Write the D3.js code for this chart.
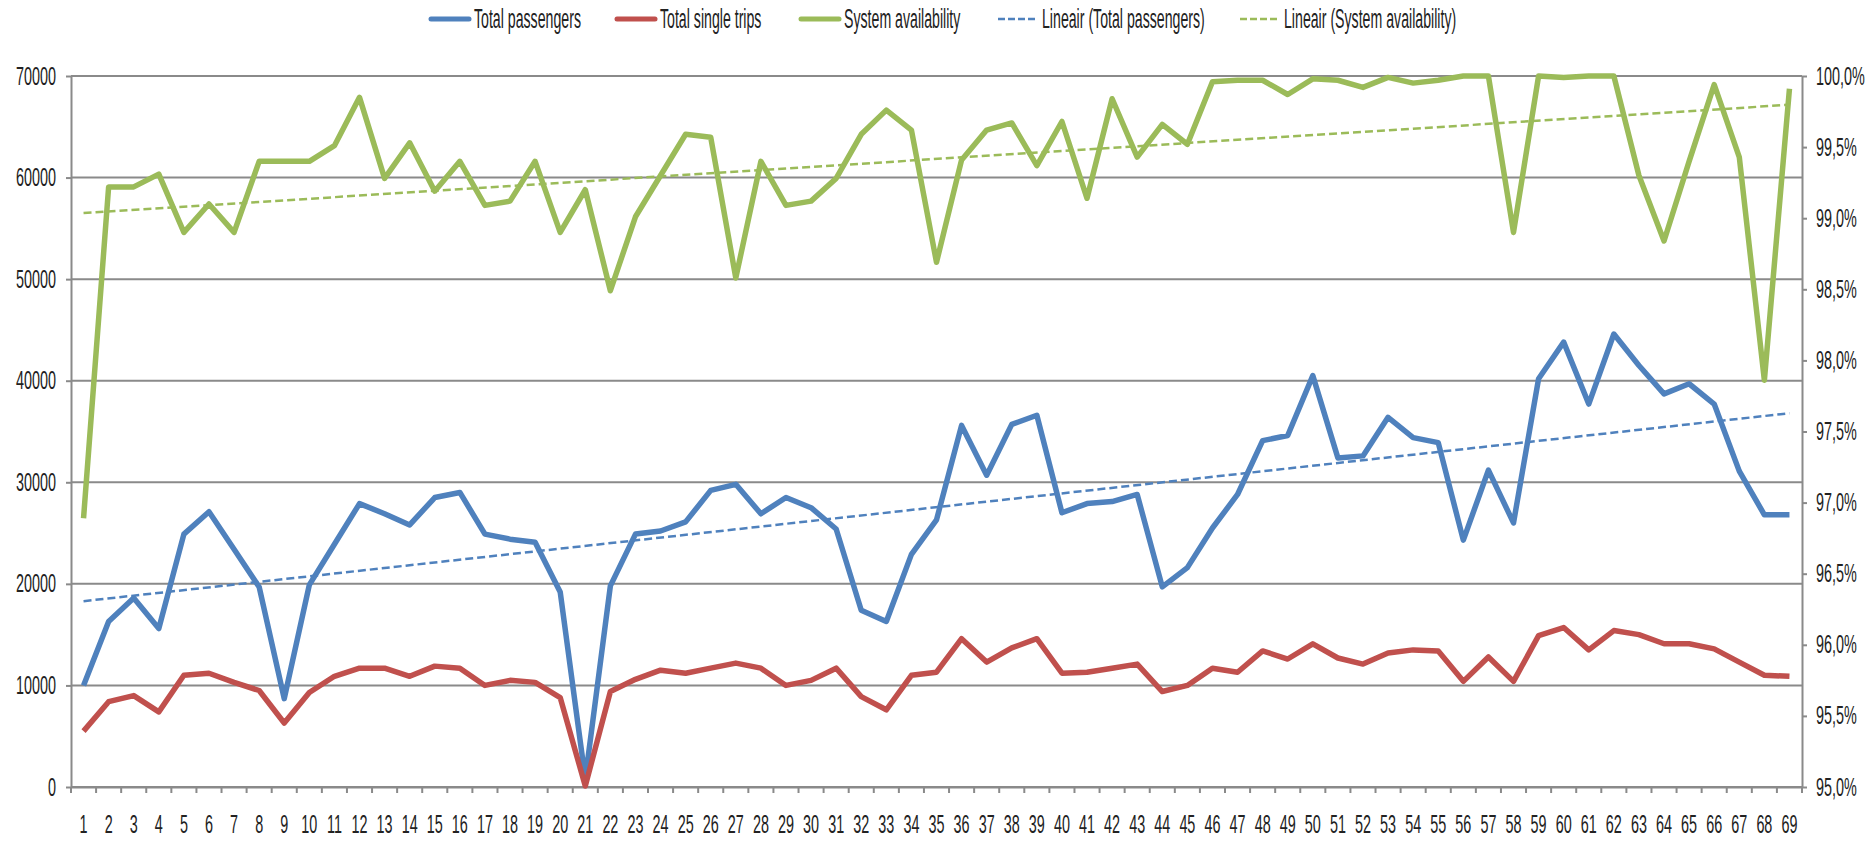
<!DOCTYPE html>
<html>
<head>
<meta charset="utf-8">
<script src="https://cdnjs.cloudflare.com/ajax/libs/d3/7.8.5/d3.min.js"></script>
<style>
  body { margin: 0; background: #fff; }
  text { font-family: "Liberation Sans Narrow", "Arial Narrow", "Liberation Sans", sans-serif; fill: #222; }
</style>
</head>
<body>
<script>
// data
var categories = ["1","2","3","4","5","6","7","8","9","10","11","12","13","14","15","16","17","18","19","20",
    "21","22","23","24","25","26","27","28","29","30","31","32","33","34","35","36","37","38","39","40",
    "41","42","43","44","45","46","47","48","49","50","51","52","53","54","55","56","57","58","59","60",
    "61","62","63","64","65","66","67","68","69"];

var totalPassengers = [10000,16300,18600,15600,24900,27100,23400,19700,8700,19900,
    23900,27900,26900,25800,28500,29000,24900,24400,24100,19200,
    800,19800,24900,25200,26100,29200,29800,26900,28500,27500,
    25400,17400,16300,22900,26300,35600,30700,35700,36600,27000,
    27900,28100,28800,19700,21600,25500,28800,34100,34600,40500,
    32400,32600,36400,34400,33900,24300,31200,26000,40200,43800,
    37700,44600,41500,38700,39700,37700,31100,26800,26800];

var totalSingleTrips = [5500,8400,9000,7400,11000,11200,10300,9500,6300,9300,
    10900,11700,11700,10900,11900,11700,10000,10500,10300,8800,
    100,9400,10600,11500,11200,11700,12200,11700,10000,10500,
    11700,8900,7600,11000,11300,14600,12300,13700,14600,11200,
    11300,11700,12100,9400,10000,11700,11300,13400,12600,14100,
    12700,12100,13200,13500,13400,10400,12800,10400,14900,15700,
    13500,15400,15000,14100,14100,13600,12300,11000,10900];

var systemAvailability = [96.89,99.22,99.22,99.31,98.90,99.10,98.90,99.40,99.40,99.40,
    99.51,99.85,99.28,99.53,99.19,99.40,99.09,99.12,99.40,98.90,
    99.20,98.49,99.01,99.30,99.59,99.57,98.58,99.40,99.09,99.12,
    99.28,99.59,99.76,99.62,98.69,99.41,99.62,99.67,99.37,99.68,
    99.14,99.84,99.43,99.66,99.52,99.96,99.97,99.97,99.87,99.98,
    99.97,99.92,99.99,99.95,99.97,100.0,100.0,98.90,100.0,99.99,
    100.0,100.0,99.30,98.84,99.40,99.94,99.43,97.86,99.91];

var leftTicks = [0,10000,20000,30000,40000,50000,60000,70000];
var rightTicks = [95.0,95.5,96.0,96.5,97.0,97.5,98.0,98.5,99.0,99.5,100.0];

var legendLabels = ["Total passengers","Total single trips","System availability",
    "Lineair (Total passengers)","Lineair (System availability)"];

var blue = "#4F81BD", red = "#C0504D", green = "#9BBB59", gridColor = "#8a8a8a";

// margins
var margin = {top: 76, right: 67, bottom: 56, left: 71}
  , width = 1869 - margin.left - margin.right
  , height = 843 - margin.top - margin.bottom;

var svgRoot = d3.select("body").append("svg")
    .attr("width", 1869)
    .attr("height", 843);

// measure the font so text can be squeezed like the original narrow font
function measure(str, size) {
    var t = svgRoot.append("text").style("font-size", size + "px").text(str);
    var w = t.node().getComputedTextLength();
    t.remove();
    return w;
}
var tickSize = 25, legendSize = 27;
var kTick = 40 / measure("70000", tickSize);
var kLegend = 107 / measure("Total passengers", legendSize);

var svg = svgRoot.append("g")
    .attr("transform", "translate(" + margin.left + "," + margin.top + ")");

// scales
var x = d3.scaleBand().domain(categories).range([0, width]).padding(0);
var yLeft = d3.scaleLinear().domain([0, 70000]).range([height, 0]);
var yRight = d3.scaleLinear().domain([95, 100]).range([height, 0]);
var cx = function(i) { return x(categories[i]) + x.bandwidth() / 2; };

// gridlines
svg.selectAll(".grid")
    .data(leftTicks)
  .enter().append("line")
    .attr("class", "grid")
    .attr("x1", 0).attr("x2", width)
    .attr("y1", function(d) { return yLeft(d); })
    .attr("y2", function(d) { return yLeft(d); })
    .attr("stroke", gridColor)
    .attr("stroke-width", 2);

// left axis
var gLeft = svg.append("g")
    .call(d3.axisLeft(yLeft).tickValues(leftTicks).tickSizeInner(5).tickSizeOuter(0).tickFormat(d3.format("d")));
gLeft.selectAll("text")
    .style("font-size", tickSize + "px")
    .attr("x", -15 / kTick)
    .attr("transform", "scale(" + kTick + ",1)");

// right axis
var gRight = svg.append("g")
    .attr("transform", "translate(" + width + ",0)")
    .call(d3.axisRight(yRight).tickValues(rightTicks).tickSizeInner(5).tickSizeOuter(0)
        .tickFormat(function(d) { return d3.format(".1f")(d).replace(".", ",") + "%"; }));
gRight.selectAll("text")
    .style("font-size", tickSize + "px")
    .attr("x", 14 / kTick)
    .attr("transform", "scale(" + kTick + ",1)");

// x axis, ticks between categories
var gX = svg.append("g")
    .attr("transform", "translate(0," + height + ")")
    .call(d3.axisBottom(x).tickSize(0).tickPadding(46 - 0.71 * tickSize));
gX.selectAll("text")
    .style("font-size", tickSize + "px")
    .attr("transform", "scale(" + kTick + ",1)");
gX.selectAll(".sep")
    .data(categories.concat([null]))
  .enter().append("line")
    .attr("class", "sep")
    .attr("x1", function(d) { return d === null ? width : x(d); })
    .attr("x2", function(d) { return d === null ? width : x(d); })
    .attr("y1", 0).attr("y2", 6)
    .attr("stroke", gridColor).attr("stroke-width", 2);

[gLeft, gRight, gX].forEach(function(g) {
    g.selectAll(".domain").attr("stroke", gridColor).attr("stroke-width", 2);
    g.selectAll(".tick line").attr("stroke", gridColor).attr("stroke-width", 2);
});

// linear trend (least squares over category index)
function trend(values) {
    var n = values.length, sx = 0, sy = 0, sxx = 0, sxy = 0;
    for (var i = 0; i < n; i++) {
        sx += i; sy += values[i]; sxx += i * i; sxy += i * values[i];
    }
    var slope = (n * sxy - sx * sy) / (n * sxx - sx * sx);
    var icpt = (sy - slope * sx) / n;
    return [{i: 0, v: icpt}, {i: n - 1, v: icpt + slope * (n - 1)}];
}

var lineLeft = d3.line()
    .x(function(d, i) { return cx(i); })
    .y(function(d) { return yLeft(d); });
var lineRight = d3.line()
    .x(function(d, i) { return cx(i); })
    .y(function(d) { return yRight(d); });

svg.append("path").datum(totalPassengers)
    .attr("d", lineLeft).attr("fill", "none").attr("stroke", blue)
    .attr("stroke-width", 5.5).attr("stroke-linejoin", "round");
svg.append("path").datum(totalSingleTrips)
    .attr("d", lineLeft).attr("fill", "none").attr("stroke", red)
    .attr("stroke-width", 5.5).attr("stroke-linejoin", "round");
svg.append("path").datum(systemAvailability)
    .attr("d", lineRight).attr("fill", "none").attr("stroke", green)
    .attr("stroke-width", 5.5).attr("stroke-linejoin", "round");

svg.append("path").datum(trend(totalPassengers))
    .attr("d", d3.line().x(function(d) { return cx(d.i); }).y(function(d) { return yLeft(d.v); }))
    .attr("fill", "none").attr("stroke", blue).attr("stroke-width", 2.5).attr("stroke-dasharray", "8,4");
svg.append("path").datum(trend(systemAvailability))
    .attr("d", d3.line().x(function(d) { return cx(d.i); }).y(function(d) { return yRight(d.v); }))
    .attr("fill", "none").attr("stroke", green).attr("stroke-width", 2.5).attr("stroke-dasharray", "8,4");

// legend
var legendColors = [blue, red, green, blue, green];
var legendDashed = [false, false, false, true, true];
var legendX = [429, 615, 799, 997, 1239];

var legend = svgRoot.selectAll(".legend")
    .data(legendLabels)
  .enter().append("g")
    .attr("class", "legend")
    .attr("transform", function(d, i) { return "translate(" + legendX[i] + ",19)"; });

legend.append("line")
    .attr("x1", function(d, i) { return legendDashed[i] ? 1 : 2; })
    .attr("x2", function(d, i) { return legendDashed[i] ? 38 : 40; })
    .attr("y1", 0).attr("y2", 0)
    .attr("stroke", function(d, i) { return legendColors[i]; })
    .attr("stroke-width", function(d, i) { return legendDashed[i] ? 2.5 : 5; })
    .attr("stroke-linecap", function(d, i) { return legendDashed[i] ? "butt" : "round"; })
    .attr("stroke-dasharray", function(d, i) { return legendDashed[i] ? "7,3" : null; });

legend.append("text")
    .attr("transform", "translate(45,0) scale(" + kLegend + ",1)")
    .attr("y", 9)
    .style("font-size", legendSize + "px")
    .text(function(d) { return d; });
</script>
</body>
</html>
